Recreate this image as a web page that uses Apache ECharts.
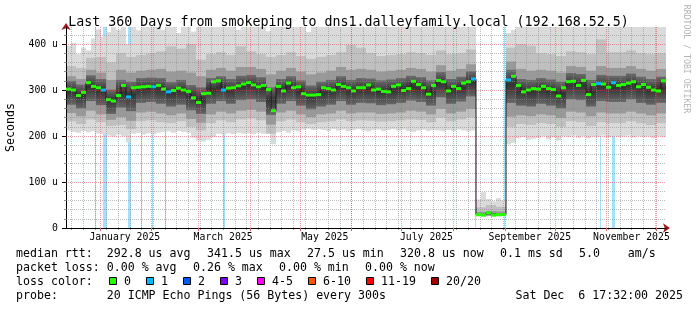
<!DOCTYPE html>
<html><head><meta charset="utf-8">
<script src="https://cdn.jsdelivr.net/npm/echarts@6/dist/echarts.min.js"></script>
<style>html,body{margin:0;padding:0;background:#fff}#c{width:697px;height:310px}</style>
</head><body><div id="c"></div>
<script>
// ---------- time frame ----------
const START = Date.UTC(2024, 11, 11, 17, 32);   // 360 days before END
const END = Date.UTC(2025, 11, 6, 17, 32);
const DAY = 86400000;
const STEP_DAYS = 3;        // median / min / max resolution
const BAND_STEP_DAYS = 6;   // inner smoke band resolution
const Y_MAX = 437;          // microseconds

// ---------- median RTT (us), one value per 3 days ----------
const medianRtt = [
 302,300,288,295,316,308,305,300,279,276,
 288,310,285,305,306,307,308,307,310,302,
 296,299,304,300,297,283,273,292,293,318,
 320,300,304,305,309,313,316,311,307,310,
 301,255,308,298,315,305,307,292,289,289,
 290,305,303,300,312,308,305,298,305,305,
 311,300,302,297,296,308,311,299,303,319,
 312,305,291,310,321,318,298,308,303,315,
 318,324,29,28,33,28,29,29,322,330,
 310,296,300,303,302,308,303,301,287,305,
 318,319,310,321,290,312,314,313,306,316,
 310,312,315,318,307,312,306,300,298,320];
// pings lost (of 20) per sample
const lostPings = [
 0,0,0,0,0,0,0,1,0,0, 0,0,1,0,0,0,0,1,0,0, 1,0,0,0,0,0,0,0,0,0,
 0,1,0,0,0,0,0,0,0,0, 0,0,0,0,0,0,0,0,0,0, 0,0,0,0,0,0,0,0,0,0,
 0,0,0,0,0,0,0,0,0,0, 0,0,0,0,0,0,0,0,0,0, 0,1,0,0,0,0,0,0,1,0,
 0,0,0,0,0,0,0,0,0,0, 0,0,0,0,0,0,1,0,0,1, 0,0,0,0,0,0,0,0,0,0];
// fastest / slowest ping per sample (us)
const pingMin = [
 212,209,207,211,208,210,206,204,201,199,
 203,200,186,205,207,203,206,204,207,209,
 210,207,211,209,207,196,190,188,192,198,
 205,203,206,204,207,205,206,204,207,205,
 210,182,208,211,207,212,210,214,216,213,
 215,213,211,215,212,214,211,213,215,212,
 210,213,214,211,213,215,212,214,211,209,
 212,214,211,213,212,210,213,211,214,212,
 210,212,25,25,26,25,25,26,182,185,
 195,198,192,194,196,200,193,197,190,200,
 198,201,196,200,195,199,198,201,197,200,
 198,199,201,197,200,198,199,196,200,198];
const pingMax = [
 396,402,378,392,386,412,432,416,426,445,
 431,452,400,460,430,470,448,455,462,431,
 450,466,424,458,447,427,462,455,470,480,
 452,460,446,458,431,449,468,454,471,446,
 428,463,452,449,466,458,450,441,426,455,
 462,449,470,453,446,458,467,452,449,463,
 455,468,451,447,459,472,450,462,453,466,
 448,457,469,452,463,471,455,448,466,459,
 452,464,62,78,63,58,65,60,424,431,
 452,446,460,455,449,467,452,458,463,449,
 471,455,462,448,466,453,482,459,451,468,
 457,449,463,452,470,456,448,461,455,450];
// inner smoke percentiles (us), one value per 6 days
const p10 = [232,226,236,230,222,224,215,232,234,230, 228,232,220,212,228,234,230,236,238,234,
 205,232,236,230,226,230,232,236,232,234, 233,231,232,234,236,235,230,240,232,236,
 240,26,26,26,220,226,224,228,226,220, 232,230,222,230,228,228,232,228,224,228];
const p25 = [250,243,255,247,235,241,233,251,253,249, 245,249,237,229,247,253,249,255,257,253,
 225,251,255,247,241,247,249,255,249,251, 251,248,249,251,255,253,247,259,249,253,
 259,27,27,27,242,245,243,247,245,239, 253,251,243,251,249,249,253,249,245,249];
const p40 = [268,260,276,267,248,262,254,272,274,270, 264,268,256,248,270,276,270,278,280,274,
 246,270,276,266,258,264,268,276,268,272, 271,267,269,272,277,274,266,284,270,275,
 286,28,29,28,272,266,264,270,266,260, 280,278,264,276,274,274,280,272,268,272];
const p60 = [320,312,332,324,301,322,318,326,327,326, 317,322,311,306,326,330,324,331,333,328,
 306,324,330,321,310,318,322,330,322,326, 325,321,323,326,331,328,321,339,324,329,
 341,31,32,31,344,324,322,326,323,318, 337,335,322,333,331,331,336,329,324,329];
const p75 = [330,324,344,338,322,344,338,342,344,346, 340,342,338,330,344,348,342,350,350,346,
 334,342,348,340,334,338,342,350,344,346, 344,340,342,344,348,346,340,354,342,346,
 356,35,37,36,362,346,342,344,342,338, 352,350,342,352,348,348,352,346,342,346];
const p90 = [352,348,370,372,360,380,372,376,380,384, 395,390,400,366,378,382,376,395,384,378,
 372,376,382,374,368,372,376,382,398,392, 380,374,376,378,382,380,376,386,378,380,
 388,45,50,46,392,400,396,380,378,374, 384,382,378,410,382,382,386,380,378,380];

// loss periods: start (days after START) and duration (days)
const lossStartDay = [17.4, 22.2, 37.2, 45.0, 51.6, 59.4, 94.2, 245.4, 262.8, 320.4, 327.6];
const lossDays     = [0.6, 2.4, 1.8, 0.6, 0.6, 0.6, 1.2, 0.6, 0.6, 0.6, 1.8];

// ---------- axes ----------
const monthStarts = ['2025-01-01','2025-02-01','2025-03-01','2025-04-01','2025-05-01','2025-06-01',
  '2025-07-01','2025-08-01','2025-09-01','2025-10-01','2025-11-01','2025-12-01'];
const monthLabelDates = ['2025-01-16','2025-03-16','2025-05-16','2025-07-16','2025-09-16','2025-11-16'];
const monthLabels = ['January 2025','March 2025','May 2025','July 2025','September 2025','November 2025'];
const firstWeekStart = '2024-12-15';
const yTicks = [0, 100, 200, 300, 400];
const yMinorTicks = [20,40,60,80,120,140,160,180,220,240,260,280,320,340,360,380,420];

// ---------- legend texts ----------
const rttStats = ['median rtt:  292.8 us avg', '341.5 us max', '27.5 us min', '320.8 us now', '0.1 ms sd', '5.0    am/s'];
const lossStats = ['packet loss: 0.00 % avg', '0.26 % max', '0.00 % min', '0.00 % now'];
const lossColorLabels = ['0','1','2','3','4-5','6-10','11-19','20/20'];
const lossColors = ['#26ff00','#00b8ff','#0059ff','#7e00ff','#ff00ff','#ff5500','#ff0000','#a10000'];
const probeText = 'probe:       20 ICMP Echo Pings (56 Bytes) every 300s';
const stampText = 'Sat Dec  6 17:32:00 2025';
const titleText = 'Last 360 Days from smokeping to dns1.dalleyfamily.local (192.168.52.5)';

// ---------- build ----------
const MONO = "'DejaVu Sans Mono', monospace";
const MINOR_GRID = { color: 'rgba(140,140,140,0.58)', width: 1, type: [1, 1] };
const MAJOR_GRID = { color: 'rgba(225,60,60,0.5)', width: 1, type: [1, 1] };
const monthStartTimes = monthStarts.map(Date.parse);
const monthLabelTimes = monthLabelDates.map(Date.parse);
const labelByTime = {};
monthLabelTimes.forEach((t, i) => { labelByTime[t] = monthLabels[i]; });
const weekTimes = [];
for (let t = Date.parse(firstWeekStart); t < END; t += 7 * DAY) weekTimes.push(t);

const sampleTime = (i, step) => START + i * step * DAY;
const outerBand = medianRtt.map((_, i) => [sampleTime(i, STEP_DAYS), sampleTime(i + 1, STEP_DAYS), pingMin[i], pingMax[i]]);
const band = (lo, hi) => lo.map((v, j) => [sampleTime(j, BAND_STEP_DAYS), sampleTime(j + 1, BAND_STEP_DAYS), v, hi[j]]);
const medianLine = medianRtt.map((v, i) => [sampleTime(i, STEP_DAYS), v]);
medianLine.push([END, medianRtt[medianRtt.length - 1]]);
const medianDots = medianRtt.map((v, i) => [sampleTime(i, STEP_DAYS), sampleTime(i + 1, STEP_DAYS), v, lostPings[i]]);
const lossBars = lossStartDay.map((d, i) => [START + d * DAY, START + (d + lossDays[i]) * DAY, 0, Y_MAX]);

// grid lines drawn through the axes' scales (markLine), so they sit above the smoke
const minorLines = weekTimes.map(t => ({ xAxis: t })).concat(yMinorTicks.map(v => ({ yAxis: v })));
const majorLines = monthStartTimes.map(t => ({ xAxis: t })).concat(yTicks.filter(v => v > 0).map(v => ({ yAxis: v })));

function lossColorFor(n) {
  if (n <= 0) return lossColors[0];
  if (n <= 3) return lossColors[n];
  if (n <= 5) return lossColors[4];
  if (n <= 10) return lossColors[5];
  if (n <= 19) return lossColors[6];
  return lossColors[7];
}

function rectRender(fill) {
  return function (params, api) {
    const a = api.coord([api.value(0), api.value(3)]);
    const b = api.coord([api.value(1), api.value(2)]);
    const f = typeof fill === 'function' ? fill() : fill;
    return { type: 'rect', shape: { x: a[0], y: a[1], width: Math.max(1, b[0] - a[0]), height: b[1] - a[1] },
             style: { fill: f } };
  };
}
function bandSeries(name, data, fill, z) {
  return { name, type: 'custom', data, z, clip: true, silent: true,
           dimensions: ['t0','t1','lo','hi'], encode: { x: [0, 1], y: [2, 3] },
           renderItem: rectRender(fill) };
}
function gridSeries(name, lines, style, z) {
  return { name, type: 'line', data: [], z, silent: true, symbol: 'none',
    markLine: { silent: true, symbol: ['none', 'none'], animation: false, label: { show: false },
      lineStyle: style, emphasis: { disabled: true }, data: lines } };
}
const darkGrad = () => new echarts.graphic.LinearGradient(0, 0, 0, 1, [
  { offset: 0, color: '#6c6c6c' }, { offset: 0.45, color: '#333333' }, { offset: 1, color: '#666666' }]);

const graphic = [];
const textEl = (x, y, text, extra) => Object.assign({ type: 'text', x, y, silent: true,
  style: Object.assign({ text, fontFamily: MONO, fontSize: 11.6, fill: '#000',
    textVerticalAlign: 'middle', verticalAlign: 'middle' }, extra || {}) });
const rttX = [16, 207, 307, 400, 500, 579];
rttStats.forEach((s, i) => graphic.push(textEl(rttX[i], 254, s)));
const lossX = [16, 193, 279, 365];
lossStats.forEach((s, i) => graphic.push(textEl(lossX[i], 268, s)));
graphic.push(textEl(16, 282, 'loss color:'));
let bx = 109;
lossColorLabels.forEach((lab, i) => {
  graphic.push({ type: 'rect', silent: true, shape: { x: bx + 0.5, y: 277.5, width: 7, height: 7 },
    style: { fill: lossColors[i], stroke: '#000', lineWidth: 1 } });
  graphic.push(textEl(bx + 15, 282, lab));
  bx += 30 + 7 * lab.length;
});
graphic.push(textEl(16, 296, probeText));
graphic.push(textEl(683, 296, stampText, { textAlign: 'right', align: 'right' }));
graphic.push({ type: 'text', x: 686, y: 59, rotation: -Math.PI / 2, silent: true,
  style: { text: 'RRDTOOL / TOBI OETIKER', fontFamily: MONO, fontSize: 8.2, fill: '#b4b4b4',
    textAlign: 'center', align: 'center', textVerticalAlign: 'middle', verticalAlign: 'middle' } });

const chart = echarts.init(document.getElementById('c'), null, { renderer: 'canvas' });
chart.setOption({
  animation: false,
  backgroundColor: '#fff',
  title: { text: titleText, left: 'center', top: 11,
    textStyle: { fontFamily: MONO, fontSize: 13.3, fontWeight: 'normal', color: '#000' } },
  grid: { left: 66, top: 27, width: 600, height: 201, containLabel: false, outerBoundsMode: 'none' },
  xAxis: [
    { type: 'value', min: START, max: END, position: 'bottom', z: 3,
      axisLine: { show: true, onZero: false, lineStyle: { color: '#000', width: 1 } },
      axisTick: { show: true, length: 3, customValues: monthStartTimes, lineStyle: { color: '#e06060' } },
      axisLabel: { show: true, customValues: monthLabelTimes, margin: 4, hideOverlap: false,
        formatter: (v) => labelByTime[v] || '', fontFamily: MONO, fontSize: 9.8, color: '#000' },
      splitLine: { show: false } },
    { type: 'value', min: START, max: END, position: 'bottom', z: 2.5,
      axisLine: { show: true, onZero: false, symbol: ['none', 'arrow'], symbolSize: [7, 7], symbolOffset: [0, 4],
        lineStyle: { color: '#a01818', opacity: 0 } },
      axisTick: { show: true, length: 2, customValues: weekTimes, lineStyle: { color: '#8f8f8f', opacity: 1 } },
      axisLabel: { show: false },
      splitLine: { show: false } }
  ],
  yAxis: [
    { type: 'value', min: 0, max: Y_MAX, position: 'left', z: 3,
      name: 'Seconds', nameLocation: 'middle', nameRotate: 90, nameGap: 49,
      nameTextStyle: { fontFamily: MONO, fontSize: 11.6, color: '#000' },
      axisLine: { show: true, onZero: false, lineStyle: { color: '#000', width: 1 } },
      axisTick: { show: true, length: 4, customValues: yTicks, lineStyle: { color: '#000' } },
      axisLabel: { show: true, customValues: yTicks, margin: 8, formatter: (v) => (v === 0 ? '0' : v + ' u'),
        fontFamily: MONO, fontSize: 9.8, color: '#000' },
      splitLine: { show: false } },
    { type: 'value', min: 0, max: Y_MAX, position: 'left', z: 2.5,
      axisLine: { show: true, onZero: false, symbol: ['none', 'arrow'], symbolSize: [7, 7], symbolOffset: [0, 4],
        lineStyle: { color: '#a01818', opacity: 0 } },
      axisTick: { show: true, length: 2, customValues: yMinorTicks, lineStyle: { color: '#8f8f8f', opacity: 1 } },
      axisLabel: { show: false },
      splitLine: { show: false } }
  ],
  graphic,
  series: [
    bandSeries('loss', lossBars, '#a2e2fc', 1),
    bandSeries('smoke min-max', outerBand, '#dadada', 2),
    bandSeries('smoke p10-p90', band(p10, p90), '#c0c0c0', 2),
    bandSeries('smoke p25-p75', band(p25, p75), '#999999', 2),
    bandSeries('smoke p40-p60', band(p40, p60), darkGrad, 2),
    gridSeries('minor grid', minorLines, MINOR_GRID, 4),
    gridSeries('major grid', majorLines, MAJOR_GRID, 4.5),
    { name: 'median', type: 'line', data: medianLine, step: 'end', symbol: 'none', z: 5, silent: true,
      lineStyle: { color: '#1a1a1a', width: 1 } },
    { name: 'median loss', type: 'custom', data: medianDots, z: 6, clip: true, silent: true,
      dimensions: ['t0','t1','rtt','loss'], encode: { x: [0, 1], y: [2] },
      renderItem: function (params, api) {
        const a = api.coord([api.value(0), api.value(2)]);
        const b = api.coord([api.value(1), api.value(2)]);
        return { type: 'rect', shape: { x: a[0], y: a[1] - 1.5, width: b[0] - a[0], height: 3 },
                 style: { fill: lossColorFor(api.value(3)) } };
      } }
  ]
});
</script>
</body></html>
